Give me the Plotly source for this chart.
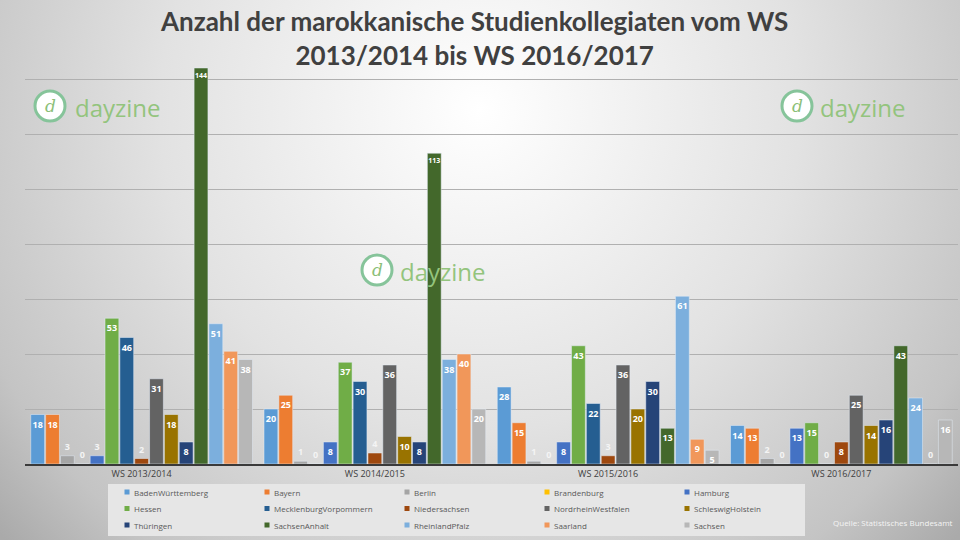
import base64
import plotly.graph_objects as go

semesters = ["WS 2013/2014", "WS 2014/2015", "WS 2015/2016", "WS 2016/2017"]

states = ["BadenWürttemberg", "Bayern", "Berlin", "Brandenburg", "Hamburg",
          "Hessen", "MecklenburgVorpommern", "Niedersachsen", "NordrheinWestfalen",
          "SchleswigHolstein", "Thüringen", "SachsenAnhalt", "RheinlandPfalz",
          "Saarland", "Sachsen"]

values = {
    "BadenWürttemberg":      [18, 20, 28, 14],
    "Bayern":                [18, 25, 15, 13],
    "Berlin":                [3, 1, 1, 2],
    "Brandenburg":           [0, 0, 0, 0],
    "Hamburg":               [3, 8, 8, 13],
    "Hessen":                [53, 37, 43, 15],
    "MecklenburgVorpommern": [46, 30, 22, 0],
    "Niedersachsen":         [2, 4, 3, 8],
    "NordrheinWestfalen":    [31, 36, 36, 25],
    "SchleswigHolstein":     [18, 10, 20, 14],
    "Thüringen":             [8, 8, 30, 16],
    "SachsenAnhalt":         [144, 113, 13, 43],
    "RheinlandPfalz":        [51, 38, 61, 24],
    "Saarland":              [41, 40, 9, 0],
    "Sachsen":               [38, 20, 5, 16],
}

colors = ["#5B9BD5", "#ED7D31", "#A5A5A5", "#FFC000", "#4472C4",
          "#70AD47", "#255E91", "#9E480E", "#636363", "#997300",
          "#264478", "#43682B", "#7CAFDD", "#F1975A", "#B7B7B7"]

title_text = "Anzahl der marokkanische Studienkollegiaten vom WS<br>2013/2014 bis WS 2016/2017"
source_text = "Quelle: Statistisches Bundesamt"

# layout geometry (pixels)
W, H = 960, 540
L, R, T, B = 25, 2, 40, 76
PW, PH = W - L - R, H - T - B
YMAX = PH / 2.75


def px(x):
    return (x - L) / PW


def py(y):
    return (H - B - y) / PH


fig = go.Figure()
for s, c in zip(states, colors):
    v = values[s]
    fig.add_trace(go.Bar(
        name=s, x=semesters, y=v, marker_color=c,
        text=[str(a) for a in v],
        textposition=["outside" if a < 5 else "inside" for a in v],
        insidetextanchor="end",
        textangle=0,
        constraintext="none",
        textfont=dict(family="Open Sans", size=[7 if a > 99 else 9 for a in v],
                      color="white", weight="bold"),
        outsidetextfont=dict(color="#f4f4f4"),
        cliponaxis=False,
        showlegend=False,
    ))

svg = ('<svg xmlns="http://www.w3.org/2000/svg" width="960" height="540">'
       '<defs><radialGradient id="g" cx="480" cy="110" r="640" gradientUnits="userSpaceOnUse">'
       '<stop offset="0" stop-color="#ffffff"/><stop offset="0.5" stop-color="#e2e2e2"/>'
       '<stop offset="0.85" stop-color="#c4c4c4"/><stop offset="1" stop-color="#aaaaaa"/>'
       '</radialGradient></defs><rect width="960" height="540" fill="url(#g)"/></svg>')
src = "data:image/svg+xml;base64," + base64.b64encode(svg.encode()).decode()

shapes = []
annotations = []

# title
annotations.append(dict(xref="paper", yref="paper", x=px(474), y=py(38), text=title_text,
                        showarrow=False, xanchor="center", yanchor="middle",
                        font=dict(family="Lato", size=26, color="#404040", weight="bold")))

# watermarks
for cx, cy, tx in [(50, 106, 73), (797, 106, 818), (377, 270, 398)]:
    r = 15
    shapes.append(dict(type="circle", xref="paper", yref="paper",
                       x0=px(cx - r), x1=px(cx + r), y0=py(cy + r), y1=py(cy - r),
                       line=dict(color="#86c49a", width=3), fillcolor="white", layer="above"))
    annotations.append(dict(xref="paper", yref="paper", x=px(cx), y=py(cy), text="<i>d</i>",
                            showarrow=False, xanchor="center", yanchor="middle",
                            font=dict(family="DejaVu Serif", size=17, color="#8cbf78")))
    annotations.append(dict(xref="paper", yref="paper", x=px(tx), y=py(cy + 1), text="dayzine",
                            showarrow=False, xanchor="left", yanchor="middle",
                            font=dict(family="Open Sans", size=24, color="#93c47d")))

# legend box drawn from the state / colour lists
shapes.append(dict(type="rect", xref="paper", yref="paper", x0=px(108), x1=px(805),
                   y0=py(536), y1=py(484), fillcolor="#e6e6e6", line=dict(width=0), layer="below"))
for i, (s, c) in enumerate(zip(states, colors)):
    col, row = i % 5, i // 5
    mx = 127 + 140 * col
    my = 492 + 16.5 * row
    shapes.append(dict(type="rect", xref="paper", yref="paper",
                       x0=px(mx - 2.5), x1=px(mx + 2.5), y0=py(my + 2.5), y1=py(my - 2.5),
                       fillcolor=c, line=dict(width=0), layer="above"))
    annotations.append(dict(xref="paper", yref="paper", x=px(mx + 5), y=py(my), text=s,
                            showarrow=False, xanchor="left", yanchor="middle",
                            font=dict(family="Open Sans", size=8, color="#595959")))

annotations.append(dict(xref="paper", yref="paper", x=px(955), y=py(522), text=source_text,
                        showarrow=False, xanchor="right", yanchor="middle",
                        font=dict(family="Open Sans", size=8, color="#f4f4f4")))

fig.update_layout(
    width=W, height=H,
    margin=dict(l=L, r=R, t=T, b=B),
    paper_bgcolor="#d4d4d4",
    plot_bgcolor="rgba(0,0,0,0)",
    images=[dict(source=src, xref="paper", yref="paper", x=px(0), y=py(0),
                 sizex=W / PW, sizey=H / PH, xanchor="left", yanchor="top",
                 sizing="stretch", layer="below")],
    barmode="group",
    bargap=0.045,
    bargroupgap=0.07,
    showlegend=False,
    xaxis=dict(showline=True, linecolor="#3a3a3a", linewidth=2, ticks="",
               tickfont=dict(family="Open Sans", size=9, color="#404040"),
               fixedrange=True),
    yaxis=dict(range=[0, YMAX], dtick=20, showticklabels=False, gridcolor="#b0b0b0",
               gridwidth=1, zeroline=False, fixedrange=True),
    shapes=shapes,
    annotations=annotations,
)

fig.write_html("out.html", config={"displayModeBar": False},
               post_script="document.body.style.margin='0';")
